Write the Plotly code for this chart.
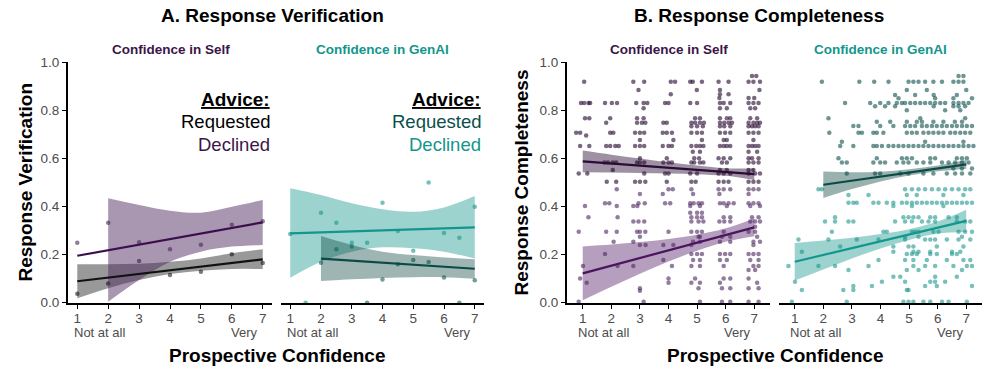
import plotly.graph_objects as go

W, H = 997, 375

X_INT = [1, 2, 3, 4, 5, 6, 7]
X_FROM2 = [2, 3, 4, 5, 6, 7]
X_TICK_TEXT = ["1", "2", "3", "4", "5", "6", "7"]
Y_TICKS = [0, 0.2, 0.4, 0.6, 0.8, 1.0]

# ---- A. Response Verification ----------------------------------------
A_SELF_X = [1, 2, 3, 4, 5, 6, 7]
A_SELF_REQ_Y = [0.037, 0.08, 0.173, 0.115, 0.129, 0.201, 0.165]
A_SELF_DEC_Y = [0.249, 0.332, 0.251, 0.222, 0.241, 0.324, 0.338]
A_SELF_REQ_FIT = [0.089, 0.104, 0.119, 0.134, 0.149, 0.165, 0.18]
A_SELF_REQ_LO = [0.018, 0.06, 0.094, 0.119, 0.133, 0.14, 0.14]
A_SELF_REQ_HI = [0.16, 0.16, 0.162, 0.17, 0.184, 0.205, 0.222]
A_SELF_DEC_FIT = [0.195, 0.218, 0.241, 0.264, 0.288, 0.311, 0.334]
A_SELF_DEC_LO = [0.004, 0.094, 0.17, 0.212, 0.233, 0.24]
A_SELF_DEC_HI = [0.434, 0.406, 0.382, 0.374, 0.399, 0.427]

A_GENAI_DEC_X = [1, 1.5, 2, 2.5, 3, 3.5, 4, 4.5, 5, 5.5, 6, 6.5, 7]
A_GENAI_DEC_Y = [0.285, 0.0, 0.374, 0.332, 0.249, 0.249, 0.415, 0.298, 0.216, 0.499, 0.29, 0.27, 0.399]
A_GENAI_REQ_X = [2, 2.5, 3, 3.5, 4, 4.5, 5, 5.5, 6, 6.5, 7]
A_GENAI_REQ_Y = [0.166, 0.222, 0.234, 0.0, 0.096, 0.16, 0.177, 0.169, 0.105, 0.0, 0.093]
A_GENAI_DEC_FIT = [0.288, 0.292, 0.296, 0.3, 0.305, 0.309, 0.313]
A_GENAI_DEC_LO = [0.104, 0.17, 0.212, 0.23, 0.226, 0.212, 0.184]
A_GENAI_DEC_HI = [0.475, 0.447, 0.413, 0.388, 0.378, 0.396, 0.443]
A_GENAI_REQ_FIT = [0.183, 0.175, 0.166, 0.158, 0.149, 0.141]
A_GENAI_REQ_LO = [0.09, 0.097, 0.103, 0.106, 0.106, 0.1]
A_GENAI_REQ_HI = [0.277, 0.24, 0.212, 0.198, 0.188, 0.181]

# ---- B. Response Completeness (jittered raw responses, rows of y: xs) --
B_SELF_REQ = [
    (0.942, [6.92, 7.07]),
    (0.918, [1.05, 2.77, 3.15, 4.08, 4.23, 4.76, 4.85, 5.17, 5.75, 6.1, 6.8, 6.97, 7.2]),
    (0.884, [2.95, 4.99, 5.8, 7.18]),
    (0.866, [4.08, 5.8, 6.1]),
    (0.85, [5.78, 6.8, 7.0]),
    (0.83, [0.94, 1.05, 1.2, 1.26, 1.78, 2.02, 2.2, 2.87, 3.13, 3.26, 3.88, 4.0, 4.76, 5.0,
            5.8, 5.93, 6.16, 6.8, 6.97, 7.15]),
    (0.808, [3.13, 5.8, 6.04, 6.86, 7.03]),
    (0.766, [1.08, 1.23, 1.96, 2.9, 3.13, 4.93, 5.1, 5.8, 6.04, 6.16, 6.86, 7.1]),
    (0.748, [1.82, 2.9, 3.07, 3.19, 3.82, 3.94, 4.8, 4.93, 5.1, 5.24, 5.8, 5.95, 6.1, 6.22,
             6.8, 6.97, 7.1, 7.2]),
    (0.733, [4.8, 5.0, 5.2, 5.8, 5.95, 6.16, 6.8, 6.92, 7.03, 7.15]),
    (0.706, [0.77, 0.91, 1.96, 2.07, 2.83, 3.0, 3.15, 3.8, 3.94, 4.12, 4.8, 5.0, 5.17, 5.8,
             5.98, 6.16, 6.8, 6.97, 7.15]),
    (0.695, [1.12]),
    (0.676, [3.0, 4.17, 5.17, 5.93, 6.04, 6.97]),
    (0.651, [0.91, 1.23, 1.82, 1.96, 2.14, 2.26, 2.83, 3.0, 3.15, 3.8, 4.0, 4.12, 4.8, 4.97,
             5.1, 5.22, 5.8, 5.93, 6.04, 6.16, 6.8, 6.92, 7.03, 7.15]),
    (0.627, [4.85, 5.1, 6.8, 7.1]),
    (0.6, [3.0, 3.94, 4.9, 5.07, 5.75, 5.93, 6.16, 6.8, 6.92, 7.15]),
    (0.582, [1.76, 1.88, 2.05, 2.17, 2.9, 3.0, 3.15, 3.82, 4.0, 4.12, 4.8, 4.9, 5.1, 5.22,
             5.87, 6.04, 6.8, 6.97, 7.15]),
    (0.551, [2.05, 5.8, 6.04, 6.8, 6.97]),
    (0.537, [0.86, 1.16, 3.15, 3.88, 4.0, 4.76, 5.0, 5.75, 5.93, 6.16, 6.8, 7.03, 7.2]),
    (0.503, [1.84, 2.17, 2.83, 3.0, 3.19, 3.94, 4.8, 4.95, 5.75, 5.93, 6.1, 6.8, 6.97, 7.15]),
]
B_SELF_DEC = [
    (0.471, [2.19, 4.0, 4.15, 4.8, 5.75, 5.93, 6.16, 6.8, 6.97, 7.15]),
    (0.452, [3.0, 3.8, 4.86, 5.78, 6.8]),
    (0.413, [1.78, 1.93, 2.95, 3.17, 3.88, 4.06, 4.76, 4.88, 5.05, 5.17, 5.8, 5.93, 6.1, 6.28,
             6.8, 6.97, 7.15]),
    (0.402, [1.08, 2.19, 2.77, 2.91, 4.76, 5.1, 6.04, 6.86, 7.2]),
    (0.374, [4.76, 5.0, 5.17]),
    (0.355, [1.2, 2.22, 4.8, 5.0, 5.17, 5.93, 6.16, 6.92, 7.15]),
    (0.337, [2.77, 2.95, 3.15, 4.8, 5.05, 5.22, 5.78, 5.95, 6.16, 6.86, 7.03, 7.2]),
    (0.316, [7.03]),
    (0.295, [0.86, 1.82, 2.19, 2.9, 3.0, 3.19, 4.0, 4.8, 5.0, 5.17, 5.93, 6.8, 7.03]),
    (0.274, [3.0, 5.05, 5.1, 5.87, 6.16, 7.1]),
    (0.253, [2.08, 2.77, 4.86, 5.1, 5.8, 6.16, 6.97, 7.2]),
    (0.24, [3.0, 3.2, 3.82, 4.17, 4.8, 6.97]),
    (0.202, [1.78, 4.8, 5.0, 5.17, 5.8, 5.98, 6.16, 6.8, 6.97, 7.15]),
    (0.177, [3.82, 4.86, 5.1, 5.8, 6.04, 6.86, 7.15]),
    (0.152, [1.01, 2.22, 2.77, 4.12, 4.8, 5.1, 5.93, 6.97, 7.15]),
    (0.136, [6.8, 7.03]),
    (0.101, [0.91, 4.0, 4.93, 5.93, 6.16, 6.8]),
    (0.083, [1.14, 4.0, 4.8, 5.1, 5.8, 7.1]),
    (0.06, [3.0, 5.05, 5.87, 6.16, 6.8, 7.15]),
    (0.05, [3.0]),
    (0.004, [0.86, 3.13, 5.1, 5.87, 6.16, 6.8, 7.15]),
]
B_GENAI_REQ = [
    (0.942, [6.73, 6.9]),
    (0.918, [1.95, 3.26, 3.78, 4.28, 4.98, 5.15, 5.33, 5.56, 5.85, 6.15, 6.55, 6.73, 6.9]),
    (0.884, [4.92, 5.62, 7.0]),
    (0.863, [4.51, 5.21, 5.86, 6.67]),
    (0.849, [4.63, 5.91, 6.55, 7.2]),
    (0.83, [2.76, 3.64, 3.99, 4.28, 4.57, 4.75, 4.86, 5.04, 5.21, 5.39, 5.56, 5.74, 5.91, 6.09,
            6.26, 6.55, 6.73, 6.9, 7.08]),
    (0.816, [3.81, 4.16, 4.51, 5.86, 6.55, 6.73, 6.96]),
    (0.8, [4.92, 6.26, 6.79]),
    (0.766, [2.18, 5.39, 6.96]),
    (0.752, [3.87, 4.34, 4.92, 5.27, 5.45, 5.85, 6.2, 6.6, 6.85]),
    (0.734, [3.05, 3.23, 3.99, 4.45, 4.86, 5.04, 5.21, 5.45, 5.62, 5.8, 5.97, 6.15, 6.32, 6.5,
             6.67, 6.85, 7.02, 7.2]),
    (0.706, [2.21, 3.23, 3.35, 3.75, 3.87, 4.1, 4.92, 5.1, 5.27, 5.5, 5.68, 5.85, 6.03, 6.2,
             6.44, 6.61, 6.79, 6.96, 7.14]),
    (0.669, [2.65, 5.56, 6.9]),
    (0.651, [2.59, 3.05, 3.75, 3.87, 4.05, 4.28, 4.45, 4.63, 4.8, 4.98, 5.15, 5.33, 5.5, 5.68,
             5.85, 6.03, 6.2, 6.38, 6.55, 6.73, 6.9, 7.08, 7.25]),
    (0.6, [2.53, 3.87, 4.75, 4.92, 5.1, 5.74, 5.91, 6.67, 6.85, 7.02]),
    (0.582, [2.65, 2.82, 3.75, 3.99, 4.16, 4.57, 4.8, 4.98, 5.27, 5.5, 5.74, 6.15, 6.38, 6.61,
             6.85, 7.08]),
    (0.558, [6.55, 6.85, 7.2]),
    (0.537, [2.82, 3.81, 3.99, 4.69, 4.98, 5.5, 5.85, 6.32, 6.61, 6.85, 7.14]),
]
B_GENAI_DEC = [
    (0.471, [1.83, 1.95, 4.86, 5.1, 5.33, 5.56, 5.8, 6.03, 6.26, 6.5, 6.73, 6.96, 7.14]),
    (0.447, [2.88, 3.58, 4.92, 5.27, 6.2, 6.9]),
    (0.415, [2.88, 3.05, 3.17, 3.75, 3.93, 4.22, 4.45, 4.75, 4.92, 5.1, 5.27, 5.45, 5.62, 5.8,
             5.97, 6.15, 6.32, 6.5, 6.67, 6.85, 7.02, 7.2]),
    (0.402, [4.45, 5.1, 6.2]),
    (0.355, [2.41, 4.8, 4.98, 5.15, 5.33, 5.74, 5.91, 6.38, 6.67]),
    (0.337, [2.06, 2.41, 2.88, 3.05, 4.51, 4.86, 5.1, 5.45, 5.68, 5.91, 6.67, 6.96, 7.14]),
    (0.295, [2.3, 4.1, 4.22, 5.1, 5.21, 5.33, 5.85, 6.03, 6.73, 6.96, 7.2]),
    (0.274, [4.86, 5.33, 6.85]),
    (0.263, [1.13, 2.18, 3.17, 3.93, 4.86, 5.56, 5.74, 5.91, 6.32, 6.73, 7.14]),
    (0.233, [2.59, 4.45, 4.98, 5.15, 5.97, 6.9]),
    (0.212, [1.25, 4.45, 5.15, 5.33, 5.74, 6.5, 6.79]),
    (0.202, [4.92, 5.1, 5.27, 5.74, 5.97, 6.5, 6.67]),
    (0.177, [3.93, 4.86, 5.15, 5.62, 6.32, 6.9, 7.14]),
    (0.152, [0.78, 1.83, 2.41, 3.58, 5.15, 5.56, 5.91, 6.55, 7.02, 7.2]),
    (0.136, [2.88, 4.92, 5.33, 6.85]),
    (0.108, [4.45, 4.69, 5.91, 6.67]),
    (0.087, [1.01, 4.05, 4.86, 5.74, 5.91, 6.26]),
    (0.069, [3.05, 3.7, 5.56, 5.97, 7.2]),
    (0.053, [1.25, 2.7, 3.05, 4.92, 4.98]),
    (0.004, [0.9, 2.82, 4.8, 4.98, 5.15, 5.5, 5.74, 6.15, 6.38, 7.02]),
]
B_SELF_REQ_FIT = [0.587, 0.578, 0.569, 0.56, 0.552, 0.543, 0.534]
B_SELF_REQ_LO = [0.542, 0.541, 0.539, 0.537, 0.534, 0.527, 0.51]
B_SELF_REQ_HI = [0.632, 0.615, 0.599, 0.583, 0.57, 0.559, 0.558]
B_SELF_DEC_FIT = [0.122, 0.154, 0.186, 0.218, 0.249, 0.281, 0.313]
B_SELF_DEC_LO = [0.01, 0.066, 0.12, 0.171, 0.216, 0.253, 0.276]
B_SELF_DEC_HI = [0.234, 0.242, 0.252, 0.265, 0.282, 0.309, 0.35]
B_GENAI_REQ_FIT = [0.49, 0.507, 0.524, 0.541, 0.558, 0.575]
B_GENAI_REQ_LO = [0.435, 0.472, 0.504, 0.528, 0.546, 0.557]
B_GENAI_REQ_HI = [0.545, 0.542, 0.544, 0.554, 0.57, 0.593]
B_GENAI_DEC_FIT = [0.17, 0.198, 0.227, 0.255, 0.283, 0.312, 0.34]
B_GENAI_DEC_LO = [0.092, 0.138, 0.184, 0.225, 0.261, 0.287, 0.294]
B_GENAI_DEC_HI = [0.248, 0.258, 0.27, 0.285, 0.305, 0.337, 0.386]

# ---- colours --------------------------------------------------------------
SELF_TXT = "#3b1649"
GENAI_TXT = "#13968c"
REQ_GENAI_TXT = "#0b4f4a"
FONT = "Liberation Sans, Arial, Helvetica, sans-serif"


def flat(rows):
    xs = [x for _, row in rows for x in row]
    ys = [y for y, row in rows for _ in row]
    return xs, ys


fig = go.Figure()


def ribbon(x, lo, hi, fill, ax, shape="linear"):
    xa, ya = ax
    fig.add_trace(go.Scatter(x=x, y=lo, mode="lines", line=dict(width=0, shape=shape),
                             hoverinfo="skip", showlegend=False, xaxis=xa, yaxis=ya))
    fig.add_trace(go.Scatter(x=x, y=hi, mode="lines", line=dict(width=0, shape=shape),
                             fill="tonexty", fillcolor=fill, hoverinfo="skip",
                             showlegend=False, xaxis=xa, yaxis=ya))


def fitline(x, y, color, ax, shape="linear"):
    fig.add_trace(go.Scatter(x=x, y=y, mode="lines", line=dict(color=color, width=2.2, shape=shape),
                             showlegend=False, xaxis=ax[0], yaxis=ax[1]))


def dots(x, y, color, ax, size=4.5):
    fig.add_trace(go.Scatter(x=x, y=y, mode="markers", marker=dict(color=color, size=size, line=dict(width=0)),
                             showlegend=False, cliponaxis=False, xaxis=ax[0], yaxis=ax[1]))


AX1, AX2, AX3, AX4 = ("x", "y"), ("x2", "y2"), ("x3", "y3"), ("x4", "y4")

# A / self
dots(A_SELF_X, A_SELF_DEC_Y, "rgba(70,40,85,0.6)", AX1)
dots(A_SELF_X, A_SELF_REQ_Y, "rgba(40,25,45,0.6)", AX1)
ribbon(X_INT, A_SELF_REQ_LO, A_SELF_REQ_HI, "rgba(0,0,0,0.4)", AX1, "spline")
ribbon(X_FROM2, A_SELF_DEC_LO, A_SELF_DEC_HI, "rgba(75,35,90,0.48)", AX1, "spline")
fitline(X_INT, A_SELF_REQ_FIT, "#111111", AX1)
fitline(X_INT, A_SELF_DEC_FIT, "#3b0f4d", AX1)

# A / GenAI
dots(A_GENAI_DEC_X, A_GENAI_DEC_Y, "rgba(25,150,140,0.6)", AX2)
dots(A_GENAI_REQ_X, A_GENAI_REQ_Y, "rgba(15,95,88,0.6)", AX2)
ribbon(X_INT, A_GENAI_DEC_LO, A_GENAI_DEC_HI, "rgba(19,150,140,0.42)", AX2, "spline")
ribbon(X_FROM2, A_GENAI_REQ_LO, A_GENAI_REQ_HI, "rgba(12,70,65,0.4)", AX2, "spline")
fitline(X_INT, A_GENAI_DEC_FIT, "#13968c", AX2)
fitline(X_FROM2, A_GENAI_REQ_FIT, "#0b4a45", AX2)

# B / self
bx, by = flat(B_SELF_REQ)
dots(bx, by, "rgba(38,12,48,0.62)", AX3, 4.5)
bx, by = flat(B_SELF_DEC)
dots(bx, by, "rgba(75,38,95,0.6)", AX3, 4.5)
ribbon(X_INT, B_SELF_REQ_LO, B_SELF_REQ_HI, "rgba(40,10,50,0.45)", AX3, "spline")
ribbon(X_INT, B_SELF_DEC_LO, B_SELF_DEC_HI, "rgba(90,40,110,0.45)", AX3, "spline")
fitline(X_INT, B_SELF_REQ_FIT, "#2a0c36", AX3)
fitline(X_INT, B_SELF_DEC_FIT, "#4a145e", AX3)

# B / GenAI
bx, by = flat(B_GENAI_REQ)
dots(bx, by, "rgba(12,80,75,0.6)", AX4, 4.5)
bx, by = flat(B_GENAI_DEC)
dots(bx, by, "rgba(30,150,140,0.6)", AX4, 4.5)
ribbon(X_FROM2, B_GENAI_REQ_LO, B_GENAI_REQ_HI, "rgba(12,70,65,0.42)", AX4, "spline")
ribbon(X_INT, B_GENAI_DEC_LO, B_GENAI_DEC_HI, "rgba(19,150,140,0.42)", AX4, "spline")
fitline(X_FROM2, B_GENAI_REQ_FIT, "#0b4a45", AX4)
fitline(X_INT, B_GENAI_DEC_FIT, "#13968c", AX4)

# ---- axes -----------------------------------------------------------------
yb, yt = 1 - 302.7 / H, 1 - 62 / H
tickfont = dict(family=FONT, size=13.5, color="#4d4d4d")


def xax(px0, px1, rng, anchor):
    return dict(domain=[px0 / W, px1 / W], range=rng, anchor=anchor, showgrid=False, zeroline=False,
                showline=True, linecolor="black", linewidth=1.8, ticks="outside", ticklen=4,
                tickwidth=1.2, tickcolor="black", tickvals=X_INT, ticktext=X_TICK_TEXT,
                tickfont=tickfont, automargin=False, ticklabelstandoff=-2)


def yax(anchor, show):
    return dict(domain=[yb, yt], range=[0, 1], anchor=anchor, showgrid=False, zeroline=False,
                showline=show, linecolor="black", linewidth=1.8, ticks="outside" if show else "",
                ticklen=4, tickwidth=1.2, tickcolor="black", tickvals=Y_TICKS,
                showticklabels=show, tickformat=".1f", tickfont=tickfont, automargin=False)


fig.update_layout(
    width=W, height=H, margin=dict(l=0, r=0, t=0, b=0, autoexpand=False),
    plot_bgcolor="white", paper_bgcolor="white",
    font=dict(family=FONT, color="black"),
    xaxis=xax(68, 272, [0.7, 7.3], "y"),
    xaxis2=xax(281, 484, [0.7, 7.3], "y2"),
    xaxis3=xax(567, 770, [0.45, 7.55], "y3"),
    xaxis4=xax(779, 982, [0.45, 7.55], "y4"),
    yaxis=yax("x", True),
    yaxis2=yax("x2", False),
    yaxis3=yax("x3", True),
    yaxis4=yax("x4", False),
)

ann = []


def txt(text, x, y, size, color="black", xanchor="center", xref="paper", angle=0, xshift=0):
    ann.append(dict(text=text, x=x, y=y, xref=xref, yref="paper", showarrow=False,
                    xanchor=xanchor, yanchor="middle", textangle=angle, xshift=xshift,
                    font=dict(family=FONT, size=size, color=color)))


txt("<b>A. Response Verification</b>", 272 / W, 1 - 16 / H, 19)
txt("<b>B. Response Completeness</b>", 759 / W, 1 - 16 / H, 19)
txt("<b>Confidence in Self</b>", 170.5 / W, 1 - 49 / H, 13.5, SELF_TXT)
txt("<b>Confidence in GenAI</b>", 382.3 / W, 1 - 49 / H, 13.5, GENAI_TXT)
txt("<b>Confidence in Self</b>", 668.8 / W, 1 - 49 / H, 13.5, SELF_TXT)
txt("<b>Confidence in GenAI</b>", 880.7 / W, 1 - 49 / H, 13.5, GENAI_TXT)
txt("<b>Response Verification</b>", 25 / W, 1 - 182.5 / H, 19, angle=-90)
txt("<b>Response Completeness</b>", 521 / W, 1 - 182.5 / H, 19, angle=-90)
txt("<b>Prospective Confidence</b>", 276.5 / W, 1 - 355.5 / H, 19)
txt("<b>Prospective Confidence</b>", 774.8 / W, 1 - 355.5 / H, 19)

# legends inside panel A
txt("<b><u>Advice:</u></b>", 272 / W, 1 - 99 / H, 19, xanchor="right")
txt("Requested", 272 / W, 1 - 121 / H, 18.5, "black", xanchor="right")
txt("Declined", 272 / W, 1 - 144 / H, 18.5, SELF_TXT, xanchor="right")
txt("<b><u>Advice:</u></b>", 483 / W, 1 - 99 / H, 19, xanchor="right")
txt("Requested", 483 / W, 1 - 121 / H, 18.5, REQ_GENAI_TXT, xanchor="right")
txt("Declined", 483 / W, 1 - 144 / H, 18.5, GENAI_TXT, xanchor="right")

# end labels under the x ticks
for xr, sl, sr in (("x", -5, -3), ("x2", -5, -2), ("x3", -7, -1), ("x4", -7, 0)):
    txt("Not at all", 1, 1 - 332 / H, 13, "#4d4d4d", xanchor="left", xref=xr, xshift=sl)
    txt("Very", 7, 1 - 332 / H, 13, "#4d4d4d", xanchor="right", xref=xr, xshift=sr)

fig.update_layout(annotations=ann)
fig.write_html("out.html", config={"displayModeBar": False},
               post_script="document.body.style.margin='0';")
